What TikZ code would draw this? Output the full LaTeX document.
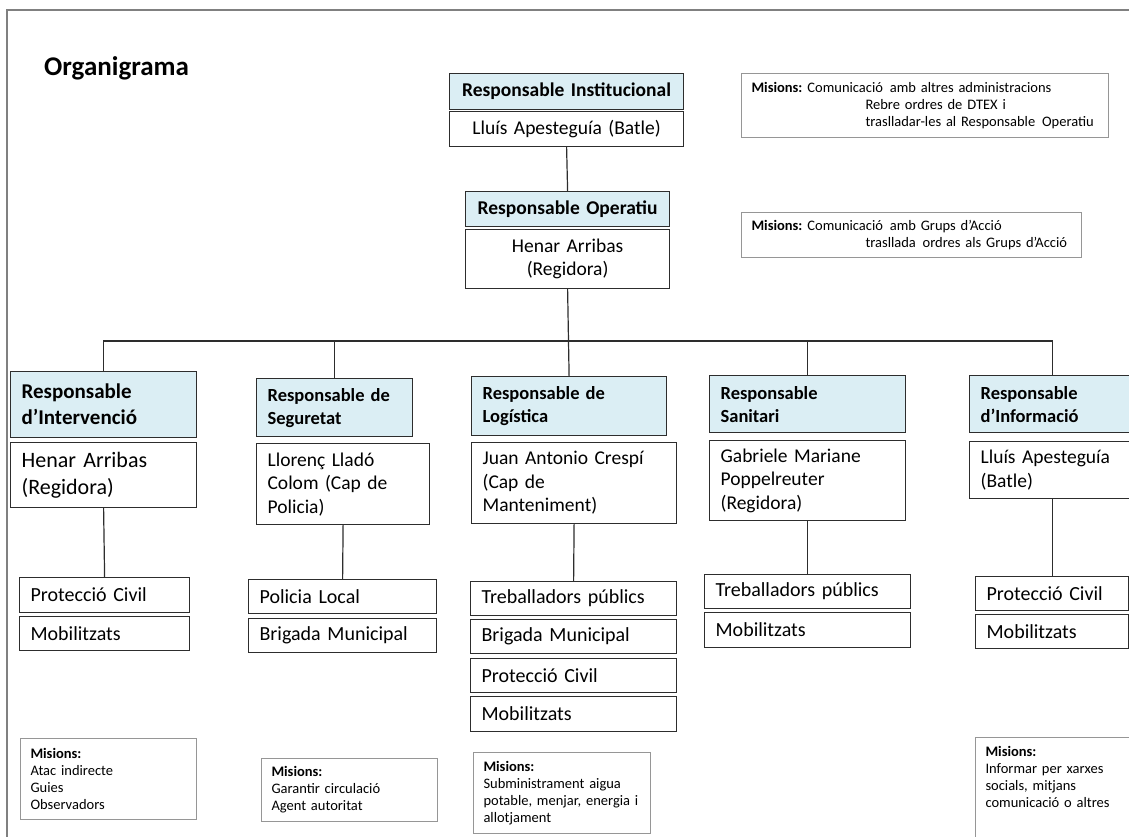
\documentclass[tikz,border=0pt]{standalone}
\usepackage{fontspec}
\setmainfont{Carlito}
\usetikzlibrary{positioning}
\definecolor{blauc}{RGB}{219,238,244}
\definecolor{linea}{RGB}{45,45,45}
\definecolor{grisc}{RGB}{150,150,150}
\definecolor{marcg}{RGB}{128,128,128}
\tikzset{
  mida/.style 2 args={minimum width=#1pt, minimum height=#2pt, text width=#1pt-22pt},
  capc/.style={draw=linea, fill=blauc, line width=1.2pt, anchor=north west, align=left, inner xsep=11pt, inner ysep=2pt, font=\fontsize{19.5}{24}\selectfont\bfseries},
  nom/.style={draw=linea, fill=white, line width=1.2pt, anchor=north west, align=left, inner xsep=11pt, inner ysep=2pt, font=\fontsize{19.5}{23.5}\selectfont},
  grup/.style={nom, font=\fontsize{20}{24}\selectfont},
  mis/.style={draw=grisc, line width=1pt, anchor=north west, align=left, inner xsep=10pt, inner ysep=4pt, font=\fontsize{14.5}{17}\selectfont},
  misw/.style={minimum width=#1pt, text width=#1pt-20pt},
  lin/.style={draw=linea, line width=1.2pt},
}
\begin{document}
\begin{tikzpicture}[x=1pt,y=-1pt]
  \useasboundingbox (0,0) rectangle (1129,836);
  \draw[marcg, line width=2pt] (7,840) -- (7,10) -- (1135,10);
  \node[anchor=west, inner sep=0pt, font=\fontsize{27}{32}\selectfont\bfseries] (titol) at (44,68) {Organigrama};

  % direccio
  \node[capc, mida={234}{36}, align=center] (h0) at (449,73) {Responsable Institucional};
  \node[nom, mida={234}{35}, align=center] (n0) at (449,111) {Lluís Apesteguía (Batle)};
  \node[capc, mida={204}{35}, align=center] (h00) at (465,191) {Responsable Operatiu};
  \node[nom, mida={204}{59}, align=center] (n00) at (465,229) {Henar Arribas\\(Regidora)};
  \node[mis, misw=367, minimum height=64pt] (m0) at (741,73) {\textbf{Misions:}\hspace{5pt}Comunicació\hspace{2pt} amb altres administracions\\ \hspace*{114pt}Rebre ordres de DTEX i\\ \hspace*{114pt}traslladar-les al Responsable\hspace{2pt} Operatiu};
  \node[mis, misw=340, minimum height=45pt] (m00) at (741,212) {\textbf{Misions:}\hspace{5pt}Comunicació\hspace{2pt} amb Grups d’Acció\\ \hspace*{114pt}trasllada\hspace{2pt} ordres als Grups d’Acció};

  % grups d'accio
  \node[capc, mida={186}{66}, font=\fontsize{21}{26}\selectfont\bfseries] (h1) at (10,371) {Responsable\\d’Intervenció};
  \node[nom, mida={186}{65}, font=\fontsize{22}{27}\selectfont] (n1) at (10,442) {Henar Arribas\\(Regidora)};
  \node[grup, mida={170}{35}] (a1) at (19,577) {Protecció Civil};
  \node[grup, mida={170}{34}] (b1) at (19,616) {Mobilitzats};
  \node[mis, misw=176, minimum height=81pt] (m1) at (20,738) {\textbf{Misions:}\\Atac indirecte\\Guies\\Observadors};

  \node[capc, mida={156}{58}, font=\fontsize{18.5}{23}\selectfont\bfseries] (h2) at (256,378) {Responsable de\\Seguretat};
  \node[nom, mida={173}{81}] (n2) at (256,443) {Llorenç Lladó\\Colom (Cap de\\Policia)};
  \node[grup, mida={188}{34}] (a2) at (248,579) {Policia Local};
  \node[grup, mida={188}{34}] (b2) at (248,618) {Brigada Municipal};
  \node[mis, misw=176, minimum height=63pt] (m2) at (261,758) {\textbf{Misions:}\\Garantir circulació\\Agent autoritat};

  \node[capc, mida={195}{59}, font=\fontsize{18.5}{23}\selectfont\bfseries] (h3) at (471,376) {Responsable de\\Logística};
  \node[nom, mida={205}{81}] (n3) at (471,442) {Juan Antonio Crespí\\(Cap de\\Manteniment)};
  \node[grup, mida={206}{34}] (a3) at (470,581) {Treballadors públics};
  \node[grup, mida={206}{34}] (b3) at (470,619) {Brigada Municipal};
  \node[grup, mida={206}{34}] (c3) at (470,658) {Protecció Civil};
  \node[grup, mida={206}{35}] (d3) at (470,696) {Mobilitzats};
  \node[mis, misw=177, minimum height=81pt] (m3) at (473,752) {\textbf{Misions:}\\Subministrament aigua\\potable, menjar, energia i\\allotjament};

  \node[capc, mida={196}{57}, font=\fontsize{18.5}{23}\selectfont\bfseries] (h4) at (709,375) {Responsable\\Sanitari};
  \node[nom, mida={196}{80}] (n4) at (709,440) {Gabriele Mariane\\Poppelreuter\\(Regidora)};
  \node[grup, mida={206}{34}] (a4) at (704,574) {Treballadors públics};
  \node[grup, mida={206}{35}] (b4) at (704,612) {Mobilitzats};

  \node[capc, mida={165}{57}, font=\fontsize{18.5}{23}\selectfont\bfseries] (h5) at (969,375) {Responsable\\d’Informació};
  \node[nom, mida={165}{57}] (n5) at (969,441) {Lluís Apesteguía\\(Batle)};
  \node[grup, mida={153}{34}] (a5) at (975,576) {Protecció Civil};
  \node[grup, mida={153}{34}] (b5) at (975,614) {Mobilitzats};
  \node[mis, misw=165, inner ysep=9pt, text depth=90pt] (m5) at (975,737) {\textbf{Misions:}\\Informar per xarxes\\socials, mitjans\\comunicació o altres};

  % connexions
  \coordinate (bus) at (0,341);
  \draw[lin] (n0.south) -- (h00.north);
  \draw[lin] (n00.south) -- (h3.north);
  \draw[lin] (h1.north) -- (h1.north |- bus) -- (h5.north |- bus) -- (h5.north);
  \foreach \g in {2,4} \draw[lin] (h\g.north) -- (h\g.north |- bus);
  \foreach \g in {1,...,5} \draw[lin] (n\g.south) -- (a\g.north);
\end{tikzpicture}
\end{document}
